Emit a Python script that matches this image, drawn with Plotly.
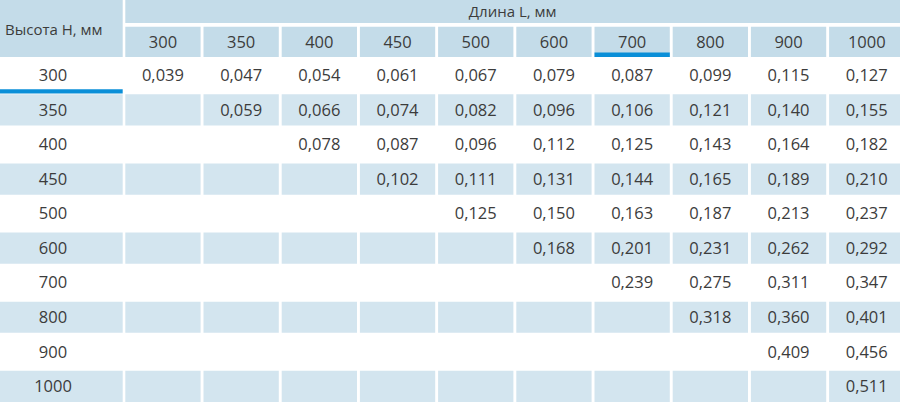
import plotly.graph_objects as go

# Длина L, мм (columns) and Высота H, мм (rows)
lengths = [300, 350, 400, 450, 500, 600, 700, 800, 900, 1000]
heights = [300, 350, 400, 450, 500, 600, 700, 800, 900, 1000]

row_300 = [0.039, 0.047, 0.054, 0.061, 0.067, 0.079, 0.087, 0.099, 0.115, 0.127]
row_350 = [None, 0.059, 0.066, 0.074, 0.082, 0.096, 0.106, 0.121, 0.140, 0.155]
row_400 = [None, None, 0.078, 0.087, 0.096, 0.112, 0.125, 0.143, 0.164, 0.182]
row_450 = [None, None, None, 0.102, 0.111, 0.131, 0.144, 0.165, 0.189, 0.210]
row_500 = [None, None, None, None, 0.125, 0.150, 0.163, 0.187, 0.213, 0.237]
row_600 = [None, None, None, None, None, 0.168, 0.201, 0.231, 0.262, 0.292]
row_700 = [None, None, None, None, None, None, 0.239, 0.275, 0.311, 0.347]
row_800 = [None, None, None, None, None, None, None, 0.318, 0.360, 0.401]
row_900 = [None, None, None, None, None, None, None, None, 0.409, 0.456]
row_1000 = [None, None, None, None, None, None, None, None, None, 0.511]
rows = [row_300, row_350, row_400, row_450, row_500,
        row_600, row_700, row_800, row_900, row_1000]

header_top = "Длина L, мм"
header_left = "Высота Н, мм"

# layout in pixel units (axis range = window size)
W, H = 900, 405
first_w = 122.7
col_x0 = 125.3
col_pitch = 78.2
col_w = 75.3
head1 = (0, 23)
head2 = (26.7, 57)
row_y0 = 59.8
row_pitch = 34.55
row_h = 31.2
text_dy = 1.6  # glyphs sit a bit high with "middle center"

HEAD_COLOR = "#c4dce9"
STRIPE_COLOR = "#d3e5ef"
ACCENT = "#0a8fd8"
TEXT = "#3c3c3c"
FONT = "Open Sans"


def fmt(v):
    return f"{v:.3f}".replace(".", ",")


fig = go.Figure()
shapes = []


def rect(x0, y0, x1, y1, color):
    shapes.append(dict(type="rect", xref="x", yref="y", x0=x0, y0=y0, x1=x1, y1=y1,
                       fillcolor=color, line=dict(width=0), layer="below"))


# header cells
rect(0, head1[0], first_w, head2[1], HEAD_COLOR)
rect(col_x0, head1[0], W + 5, head1[1], HEAD_COLOR)
for i, L in enumerate(lengths):
    x0 = col_x0 + i * col_pitch
    rect(x0, head2[0], x0 + col_w, head2[1], HEAD_COLOR)

# striped rows
for r, h in enumerate(heights):
    if r % 2 == 1:
        y0 = row_y0 + r * row_pitch
        rect(0, y0, first_w, y0 + row_h, STRIPE_COLOR)
        for i in range(len(lengths)):
            x0 = col_x0 + i * col_pitch
            rect(x0, y0, x0 + col_w, y0 + row_h, STRIPE_COLOR)

# accent lines
x700 = col_x0 + lengths.index(700) * col_pitch
rect(x700, head2[1] - 4.5, x700 + col_w, head2[1], ACCENT)
rect(0, row_y0 + row_h - 1.8, first_w, row_y0 + row_h + 2.6, ACCENT)

# text
tx, ty, tt = [], [], []
for i, L in enumerate(lengths):
    tx.append(col_x0 + i * col_pitch + col_w / 2)
    ty.append((head2[0] + head2[1]) / 2 + text_dy)
    tt.append(str(L))
for r, h in enumerate(heights):
    yc = row_y0 + r * row_pitch + row_h / 2 + text_dy
    tx.append(53)
    ty.append(yc)
    tt.append(str(h))
    for i, v in enumerate(rows[r]):
        if v is not None:
            tx.append(col_x0 + i * col_pitch + col_w / 2)
            ty.append(yc)
            tt.append(fmt(v))

fig.add_trace(go.Scatter(x=tx, y=ty, text=tt, mode="text", textposition="middle center",
                         textfont=dict(family=FONT, size=16.5, color=TEXT), hoverinfo="skip"))
fig.add_trace(go.Scatter(x=[(col_x0 + W) / 2], y=[13.5], text=[header_top], mode="text",
                         textposition="middle center",
                         textfont=dict(family=FONT, size=15, color=TEXT), hoverinfo="skip"))
fig.add_trace(go.Scatter(x=[5], y=[31], text=[header_left], mode="text",
                         textposition="middle right",
                         textfont=dict(family=FONT, size=15, color=TEXT), hoverinfo="skip"))

fig.update_layout(
    width=W, height=H, margin=dict(l=0, r=0, t=0, b=0),
    paper_bgcolor="white", plot_bgcolor="white", showlegend=False,
    shapes=shapes,
    xaxis=dict(range=[0, W], visible=False, fixedrange=True),
    yaxis=dict(range=[H, 0], visible=False, fixedrange=True),
)

fig.write_html("out.html", config={"displayModeBar": False},
               post_script="document.body.style.margin='0';")
